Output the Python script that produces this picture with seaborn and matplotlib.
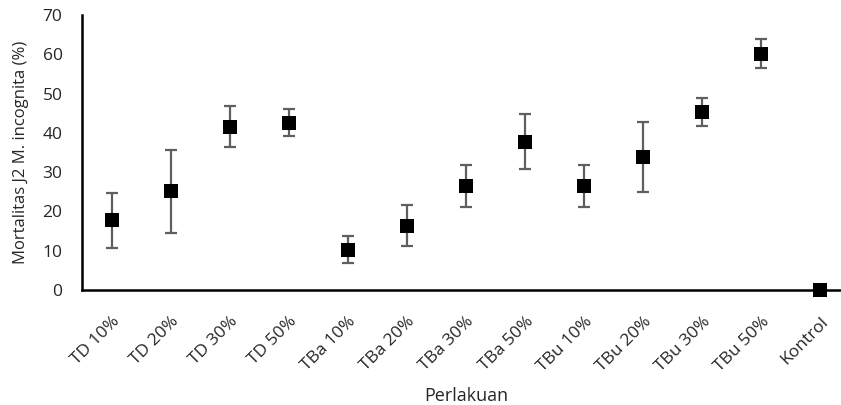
import matplotlib
matplotlib.use("Agg")
import matplotlib.pyplot as plt
import seaborn as sns
import pandas as pd

categories = ["TD 10%", "TD 20%", "TD 30%", "TD 50%", "TBa 10%", "TBa 20%", "TBa 30%",
              "TBa 50%", "TBu 10%", "TBu 20%", "TBu 30%", "TBu 50%", "Kontrol"]
mortality = [17.7, 25.1, 41.6, 42.6, 10.3, 16.4, 26.5, 37.8, 26.5, 33.9, 45.4, 60.2, 0.0]
error = [7.1, 10.6, 5.3, 3.5, 3.5, 5.3, 5.3, 7.0, 5.3, 8.9, 3.6, 3.6, 0.0]
yticks = [0, 10, 20, 30, 40, 50, 60, 70]

df = pd.DataFrame({"Perlakuan": categories, "Mortalitas": mortality, "err": error})

sns.set_theme(style="white")
plt.rcParams["font.family"] = ["Open Sans", "DejaVu Sans"]

fig = plt.figure(figsize=(8.41, 4.05), dpi=100)
ax = fig.add_axes([82 / 841, 1 - 290 / 405, (850 - 82) / 841, 275 / 405])

ax.errorbar(df["Perlakuan"], df["Mortalitas"], yerr=df["err"], fmt="none",
            ecolor="#5f5f5f", elinewidth=1.6, capsize=4.5, capthick=1.6, zorder=2)
sns.scatterplot(data=df, x="Perlakuan", y="Mortalitas", marker="s", s=105,
                color="black", edgecolor="black", linewidth=0, ax=ax, zorder=3,
                clip_on=False)

ax.set_ylim(0, 70)
ax.set_xlim(-0.5, 12.5)
ax.set_yticks(yticks)
ax.set_yticklabels([str(v) for v in yticks], fontsize=12.5)
ax.tick_params(axis="y", length=0, pad=14)
ax.tick_params(axis="x", length=0, pad=17)
ax.set_xticks(range(len(categories)))
ax.set_xticklabels(categories, rotation=45, ha="right", va="top",
                   rotation_mode="anchor", fontsize=12.5)

for side in ["top", "right"]:
    ax.spines[side].set_visible(False)
for side in ["left", "bottom"]:
    ax.spines[side].set_color("black")
    ax.spines[side].set_linewidth(1.8)

ax.set_xlabel("Perlakuan", fontsize=13, labelpad=9)
ax.set_ylabel("Mortalitas J2 M. incognita (%)", fontsize=12, labelpad=10)

fig.savefig("out.png", dpi=100)
